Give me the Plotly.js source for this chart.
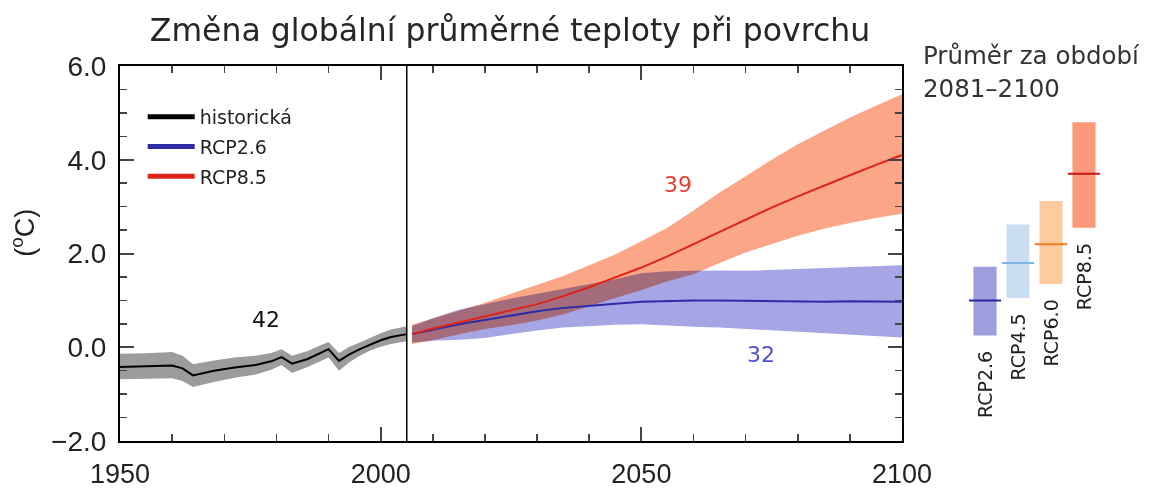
<!DOCTYPE html>
<html><head><meta charset="utf-8">
<script src="https://cdn.plot.ly/plotly-3.0.1.min.js"></script>
<style>
body{margin:0;background:#fff}
#chart{width:1152px;height:489px}
.js-fill{mix-blend-mode:multiply}
</style>
</head><body><div id="chart"></div><script>
// ---- data ----
const histYears = [1950,1955,1960,1962,1964,1968,1972,1976,1979,1981,1983,1986,1988,1990,1992,1994,1996,1998,2000,2002,2005];
const histMean  = [-0.42,-0.41,-0.39,-0.45,-0.60,-0.50,-0.43,-0.38,-0.30,-0.21,-0.35,-0.25,-0.15,-0.04,-0.29,-0.15,-0.04,0.06,0.15,0.22,0.28];
const histHi    = [-0.14,-0.13,-0.10,-0.18,-0.36,-0.28,-0.22,-0.18,-0.12,-0.04,-0.18,-0.08,0.02,0.11,-0.12,0.01,0.10,0.20,0.30,0.38,0.45];
const histLo    = [-0.68,-0.67,-0.66,-0.72,-0.85,-0.74,-0.65,-0.58,-0.48,-0.38,-0.55,-0.42,-0.32,-0.22,-0.50,-0.32,-0.18,-0.07,0.01,0.07,0.13];

const rcpYears  = [2006,2010,2015,2020,2025,2030,2035,2040,2045,2050,2055,2060,2065,2070,2075,2080,2085,2090,2095,2100];
const rcp26Mean = [0.28,0.38,0.49,0.58,0.67,0.77,0.84,0.89,0.93,0.97,0.99,1.00,1.00,0.99,0.98,0.98,0.97,0.98,0.97,0.97];
const rcp26Hi   = [0.45,0.62,0.80,0.92,1.04,1.14,1.24,1.34,1.45,1.58,1.62,1.63,1.64,1.63,1.65,1.66,1.68,1.70,1.73,1.75];
const rcp26Lo   = [0.10,0.14,0.16,0.20,0.28,0.36,0.42,0.45,0.48,0.49,0.46,0.44,0.42,0.39,0.36,0.34,0.31,0.27,0.24,0.21];
const rcp85Mean = [0.28,0.40,0.53,0.66,0.79,0.92,1.09,1.28,1.49,1.70,1.94,2.20,2.46,2.72,2.98,3.22,3.45,3.67,3.89,4.10];
const rcp85Hi   = [0.48,0.62,0.78,0.95,1.14,1.32,1.52,1.75,1.98,2.26,2.55,2.92,3.30,3.65,4.00,4.33,4.62,4.90,5.15,5.40];
const rcp85Lo   = [0.07,0.15,0.28,0.39,0.47,0.57,0.70,0.87,1.05,1.22,1.41,1.56,1.80,2.02,2.20,2.38,2.53,2.65,2.76,2.85];

const modelCounts = {hist: 42, rcp26: 32, rcp85: 39};

const periodNames = ['RCP2.6','RCP4.5','RCP6.0','RCP8.5'];
const periodMean  = [1.0, 1.8, 2.2, 3.7];
const periodLo    = [0.25, 1.05, 1.35, 2.55];
const periodHi    = [1.72, 2.62, 3.12, 4.8];

const seriesNames = ['historická','RCP2.6','RCP8.5'];
const titleText = 'Změna globální průměrné teploty při povrchu';
const sideTitle = ['Průměr za období','2081–2100'];

// ---- styles ----
const TICKFONT = 'Liberation Sans, Arial, sans-serif';
const FONT = 'DejaVu Sans, sans-serif';
const cHist = '#000000', cHistBand = 'rgb(156,156,156)';
const c26 = 'rgb(45,45,165)', c26Band = 'rgb(166,166,228)';
const c85 = 'rgb(222,35,25)', c85Band = 'rgb(252,166,136)';
const barCols  = ['rgb(158,158,222)','rgb(202,222,243)','rgb(253,202,158)','rgb(250,152,122)'];
const meanCols = ['rgb(40,40,160)','rgb(130,180,228)','rgb(240,125,30)','rgb(200,20,20)'];

function band(xs, hi, lo, col){
  return {x: xs.concat(xs.slice().reverse()), y: hi.concat(lo.slice().reverse()),
    type:'scatter', mode:'lines', fill:'toself', fillcolor: col, line:{width:0},
    hoverinfo:'skip', showlegend:false, xaxis:'x', yaxis:'y'};
}
function line(xs, ys, col){
  return {x: xs, y: ys, type:'scatter', mode:'lines', line:{color:col, width:2},
    showlegend:false, xaxis:'x', yaxis:'y'};
}
function legendItem(name, col){
  return {x:[null], y:[null], type:'scatter', mode:'lines', name:name,
    line:{color:col, width:5}, showlegend:true, xaxis:'x', yaxis:'y', legendgroup:name};
}

const traces = [
  band(histYears, histHi, histLo, cHistBand),
  band(rcpYears, rcp26Hi, rcp26Lo, c26Band),
  band(rcpYears, rcp85Hi, rcp85Lo, c85Band),
  line(histYears, histMean, cHist),
  line(rcpYears, rcp26Mean, c26),
  line(rcpYears, rcp85Mean, c85),
  legendItem(seriesNames[0], cHist),
  legendItem(seriesNames[1], c26),
  legendItem(seriesNames[2], c85),
  {type:'bar', x: periodNames, base: periodLo, y: periodHi.map((h,i)=>h-periodLo[i]),
   marker:{color: barCols, line:{width:0}}, xaxis:'x2', yaxis:'y', showlegend:false, hoverinfo:'skip'},
  {type:'scatter', mode:'markers', x: periodNames, y: periodMean,
   marker:{symbol:'line-ew', size:23, line:{width:2, color: meanCols}},
   xaxis:'x2', yaxis:'y', showlegend:false, hoverinfo:'skip'}
];

const annotations = [
  {x:1978, y:0.6, xref:'x', yref:'y', xanchor:'center', yanchor:'middle', text:String(modelCounts.hist), showarrow:false,
   font:{family:FONT, size:22, color:'#111'}},
  {x:2057, y:3.47, xref:'x', yref:'y', xanchor:'center', yanchor:'middle', text:String(modelCounts.rcp85), showarrow:false,
   font:{family:FONT, size:22, color:'rgb(232,60,45)'}},
  {x:2073, y:-0.16, xref:'x', yref:'y', xanchor:'center', yanchor:'middle', text:String(modelCounts.rcp26), showarrow:false,
   font:{family:FONT, size:22, color:'rgb(80,80,205)'}},
  {x:-0.094, y:0.555, xref:'paper', yref:'paper', xanchor:'center', yanchor:'middle', text:'(<sup>o</sup>C)', textangle:-90,
   showarrow:false, font:{family:TICKFONT, size:27, color:'#222'}},
  {x:0.776, y:1.029, xref:'paper', yref:'paper', xanchor:'left', yanchor:'middle',
   text:sideTitle[0], showarrow:false, font:{family:FONT, size:24.5, color:'#333'}},
  {x:0.776, y:0.941, xref:'paper', yref:'paper', xanchor:'left', yanchor:'middle',
   text:sideTitle[1], showarrow:false, font:{family:FONT, size:24.5, color:'#333'}}
];
periodNames.forEach((n,i)=>{
  annotations.push({x:n, y:periodLo[i], xref:'x2', yref:'y', xanchor:'center', yanchor:'top', yshift:-14,
    text:n, textangle:-90, showarrow:false, font:{family:FONT, size:19, color:'#222'}});
});

const layout = {
  width:1152, height:489,
  margin:{l:120, r:0, t:66, b:48},
  paper_bgcolor:'#fff', plot_bgcolor:'rgba(0,0,0,0)',
  font:{family:FONT, color:'#222'},
  title:{text:titleText, x:0.4427, xanchor:'center', xref:'container', y:0.939, yanchor:'middle', yref:'container',
    font:{family:FONT, size:31.5, color:'#262626'}},
  showlegend:true,
  legend:{x:0.022, y:0.915, xanchor:'left', yanchor:'top', bgcolor:'rgba(0,0,0,0)', itemwidth:47,
    font:{family:FONT, size:19, color:'#222'}, tracegroupgap:2},
  bargap:0.3,
  xaxis:{domain:[0,0.7578], range:[1950,2100], tick0:1950, dtick:50, ticks:'inside', ticklen:14, tickwidth:2,
    minor:{dtick:10, ticks:'inside', ticklen:7, tickwidth:1.5}, mirror:'ticks', showline:true, linewidth:2, linecolor:'#000',
    showgrid:false, zeroline:false, tickfont:{family:TICKFONT, size:27, color:'#222'}, ticklabelstandoff:8, anchor:'y'},
  yaxis:{range:[-2,6], dtick:2, tick0:-2, tickformat:'.1f', ticks:'inside', ticklen:14, tickwidth:2,
    minor:{dtick:0.5, ticks:'inside', ticklen:7, tickwidth:1.5}, mirror:'ticks', showline:true, linewidth:2, linecolor:'#000',
    showgrid:false, zeroline:false, tickfont:{family:TICKFONT, size:28, color:'#222'}, ticklabelstandoff:6, anchor:'x'},
  xaxis2:{domain:[0.8222,0.9501], anchor:'y', type:'category', range:[-0.5,3.5], visible:false},
  shapes:[{type:'line', xref:'x', yref:'paper', x0:histYears[histYears.length-1], x1:histYears[histYears.length-1],
    y0:0, y1:1, line:{color:'#000', width:1.5}}],
  annotations: annotations
};

Plotly.newPlot('chart', traces, layout, {displayModeBar:false, staticPlot:true});
</script></body></html>
